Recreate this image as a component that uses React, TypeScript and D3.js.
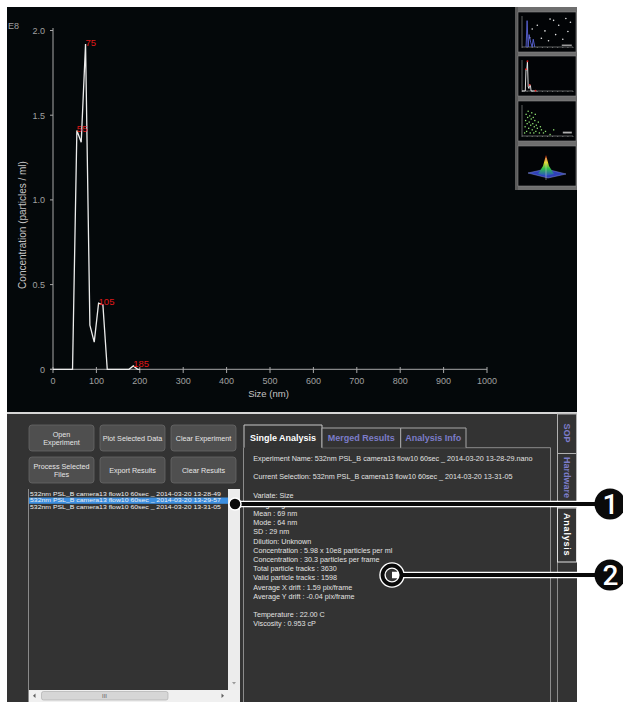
import React from "react";
import * as d3 from "d3";

// ---------- data ----------
const sizes = [0, 40, 45, 55, 65, 75, 85, 95, 105, 115, 125, 175, 185, 195, 200];
const concentration = [0, 0, 0, 1.41, 1.34, 1.92, 0.26, 0.16, 0.39, 0.38, 0, 0, 0.02, 0, 0];
const peakSizes = [55, 75, 105, 185];
const xTicks = [0, 100, 200, 300, 400, 500, 600, 700, 800, 900, 1000];
const yTicks = [0, 0.5, 1.0, 1.5, 2.0];
const yTickLabels = ["0", "0.5", "1.0", "1.5", "2.0"];

const buttonLabels = [
  ["Open", "Experiment"],
  ["Plot Selected Data"],
  ["Clear Experiment"],
  ["Process Selected", "Files"],
  ["Export Results"],
  ["Clear Results"],
];
const fileList = [
  "532nm PSL_B camera13 flow10 60sec _ 2014-03-20 13-28-49",
  "532nm PSL_B camera13 flow10 60sec _ 2014-03-20 13-29-57",
  "532nm PSL_B camera13 flow10 60sec _ 2014-03-20 13-31-05",
];
const selectedFile = 1;
const tabLabels = ["Single Analysis", "Merged Results", "Analysis Info"];
const sideTabs = ["SOP", "Hardware", "Analysis"];
const infoLines = [
  "Experiment Name: 532nm PSL_B camera13 flow10 60sec _ 2014-03-20 13-28-29.nano",
  "",
  "Current Selection: 532nm PSL_B camera13 flow10 60sec _ 2014-03-20 13-31-05",
  "",
  "Variate: Size",
  "Weighting: Number",
  "Mean : 69 nm",
  "Mode : 64 nm",
  "SD : 29 nm",
  "Dilution: Unknown",
  "Concentration : 5.98  x 10e8 particles per ml",
  "Concentration : 30.3 particles per frame",
  "Total particle tracks : 3630",
  "Valid particle tracks : 1598",
  "Average X drift : 1.59 pix/frame",
  "Average Y drift : -0.04 pix/frame",
  "",
  "Temperature : 22.00 C",
  "Viscosity : 0.953 cP",
];
const callouts = ["1", "2"];

// thumbnails (normalised 0..1 coordinates inside each mini plot)
const thumb1Dots = [
  [0.55, 0.1], [0.62, 0.14], [0.86, 0.08], [0.3, 0.3], [0.72, 0.3], [0.45, 0.48],
  [0.2, 0.42], [0.9, 0.5], [0.38, 0.72], [0.66, 0.6], [0.52, 0.8], [0.8, 0.75],
  [0.15, 0.7], [0.95, 0.2],
];
const thumb1Line = [
  [0.08, 1], [0.1, 0.15], [0.12, 1], [0.14, 0.6], [0.17, 0.85], [0.2, 1], [0.22, 0.75], [0.25, 1],
];
const thumb3Dots = [
  [0.05, 0.9], [0.06, 0.7], [0.07, 0.5], [0.08, 0.3], [0.09, 0.85], [0.1, 0.6], [0.11, 0.4],
  [0.12, 0.2], [0.13, 0.75], [0.14, 0.55], [0.15, 0.35], [0.16, 0.9], [0.17, 0.65], [0.18, 0.45],
  [0.19, 0.25], [0.2, 0.8], [0.21, 0.6], [0.22, 0.4], [0.23, 0.9], [0.24, 0.7], [0.25, 0.5],
  [0.26, 0.3], [0.27, 0.85], [0.28, 0.65], [0.3, 0.75], [0.32, 0.55], [0.34, 0.9], [0.36, 0.7],
  [0.38, 0.8], [0.42, 0.9], [0.46, 0.85], [0.55, 0.95], [0.62, 0.8],
];

// ---------- helpers ----------
const FONT = "'Liberation Sans', Arial, sans-serif";

export default function App() {
  const x = d3.scaleLinear().domain([0, 1000]).range([53, 487]);
  const y = d3.scaleLinear().domain([0, 2]).range([369.3, 30.5]);
  const pts = sizes.map((s, i) => [s, concentration[i]] as [number, number]);
  const line = d3
    .line<[number, number]>()
    .x((d) => x(d[0]))
    .y((d) => y(d[1]));

  const thumbs = [12, 56, 101, 146];
  const tx0 = 518, tw = 58, th = 40;

  const infoY = (i: number) => 460.7 + i * 9.2;
  const rowY = (i: number) => 496 + i * 6.4;

  return (
    <svg
      width={623}
      height={702}
      style={{ position: "fixed", left: 0, top: 0, display: "block" }}
      fontFamily={FONT}
    >
      <defs>
        <clipPath id="listClip">
          <rect x={29} y={489} width={199} height={201} />
        </clipPath>
        <clipPath id="hwClip">
          <rect x={557} y={454} width={20} height={53} />
        </clipPath>
        <linearGradient id="peakGrad" x1="0" y1="1" x2="0" y2="0">
          <stop offset="0" stopColor="#2a4cc8" />
          <stop offset="0.35" stopColor="#2fbf4a" />
          <stop offset="0.65" stopColor="#e8d820" />
          <stop offset="1" stopColor="#e0201a" />
        </linearGradient>
      </defs>
      <rect x={0} y={0} width={623} height={702} fill="#ffffff" />

      {/* ---------- top chart panel ---------- */}
      <rect x={7} y={7} width={570} height={405} fill="#04080a" />

      {/* axes */}
      <line x1={53} x2={53} y1={28} y2={369.3} stroke="#a8a8a8" />
      <line x1={50} x2={487} y1={369.3} y2={369.3} stroke="#a8a8a8" />
      {yTicks.map((t, i) => (
        <g key={"yt" + i}>
          <line x1={50} x2={53} y1={y(t)} y2={y(t)} stroke="#a8a8a8" />
          <text x={45} y={y(t) + 3.5} fontSize={9} fill="#a0a0a0" textAnchor="end">
            {yTickLabels[i]}
          </text>
        </g>
      ))}
      {xTicks.map((t) => (
        <g key={"xt" + t}>
          <line x1={x(t)} x2={x(t)} y1={367} y2={373} stroke="#a8a8a8" />
          <text x={x(t)} y={384} fontSize={9} fill="#a0a0a0" textAnchor="middle">
            {t}
          </text>
        </g>
      ))}
      <text x={8} y={28.5} fontSize={9} fill="#a0a0a0">E8</text>
      <text
        transform={`translate(25.5,225) rotate(-90)`}
        fontSize={10}
        fill="#c4c4c4"
        textAnchor="middle"
      >
        Concentration (particles / ml)
      </text>
      <text x={268.5} y={396.5} fontSize={9.5} fill="#c4c4c4" textAnchor="middle">
        Size (nm)
      </text>

      {/* data */}
      <path d={line(pts) || ""} fill="none" stroke="#ececec" strokeWidth={1.3} />
      {peakSizes.map((p) => {
        const v = concentration[sizes.indexOf(p)];
        return (
          <text key={"pk" + p} x={x(p)} y={y(v) + 1.5} fontSize={9.5} fill="#e01818">
            {p}
          </text>
        );
      })}

      {/* thumbnails */}
      <rect x={515} y={7} width={62} height={183} fill="#6e6e6e" />
      <rect x={515} y={7} width={3} height={183} fill="#5a5a5a" />
      {thumbs.map((ty, k) => {
        const ux = d3.scaleLinear().domain([0, 1]).range([tx0 + 4, tx0 + tw - 3]);
        const uy = d3.scaleLinear().domain([0, 1]).range([ty + 4, ty + th - 5]);
        return (
          <g key={"th" + k}>
            <rect x={tx0} y={ty} width={tw} height={th} fill="#020406" stroke="#8a8a8a" strokeWidth={0.6} />
            {k < 3 && (
              <g stroke="#bdbdbd" strokeWidth={0.5}>
                <line x1={ux(0)} x2={ux(0)} y1={uy(0)} y2={uy(1)} />
                <line x1={ux(0)} x2={ux(1)} y1={uy(1)} y2={uy(1)} />
                {d3.range(0, 1.01, 0.1).map((t) => (
                  <line key={t} x1={ux(t)} x2={ux(t)} y1={uy(1)} y2={uy(1) + 1} />
                ))}
              </g>
            )}
            {k === 0 && (
              <g>
                {thumb1Dots.map((d, i) => (
                  <circle key={i} cx={ux(d[0])} cy={uy(d[1])} r={0.8} fill="#e8e8e8" />
                ))}
                <path
                  d={d3.line().x((d) => ux(d[0])).y((d) => uy(d[1]))(thumb1Line as [number, number][]) || ""}
                  fill="none"
                  stroke="#5a64d8"
                  strokeWidth={0.9}
                />
                <rect x={ux(0.78)} y={uy(0.92)} width={10} height={1.5} fill="#9a9a9a" />
              </g>
            )}
            {k === 1 && (
              <g>
                <path
                  d={
                    d3
                      .line<[number, number]>()
                      .x((d) => ux(d[0] / 700))
                      .y((d) => uy(1 - d[1] / 2))(pts) || ""
                  }
                  fill="none"
                  stroke="#f4f4f4"
                  strokeWidth={0.9}
                />
                {peakSizes.map((p) => (
                  <circle
                    key={p}
                    cx={ux(p / 700)}
                    cy={uy(1 - concentration[sizes.indexOf(p)] / 2)}
                    r={0.9}
                    fill="#e02020"
                  />
                ))}
              </g>
            )}
            {k === 2 && (
              <g>
                {thumb3Dots.map((d, i) => (
                  <rect key={i} x={ux(d[0]) - 0.6} y={uy(d[1]) - 0.6} width={1.3} height={1.3} fill="#8ee070" />
                ))}
                <rect x={ux(0.8)} y={uy(0.86)} width={9} height={1.8} fill="#b0b0b0" />
              </g>
            )}
            {k === 3 && (
              <g>
                <polygon
                  points={`${tx0 + 10},${ty + 27} ${tx0 + 28},${ty + 23} ${tx0 + 48},${ty + 28} ${tx0 + 30},${ty + 32}`}
                  fill="#3040b8"
                  stroke="#8090e0"
                  strokeWidth={0.5}
                />
                <polygon
                  points={`${tx0 + 20},${ty + 28} ${tx0 + 25},${ty + 20} ${tx0 + 28},${ty + 9} ${tx0 + 31},${ty + 20} ${tx0 + 36},${ty + 28} ${tx0 + 28},${ty + 30}`}
                  fill="url(#peakGrad)"
                />
                <line x1={tx0 + 28} x2={tx0 + 28} y1={ty + 12} y2={ty + 34} stroke="#d0d0d0" strokeWidth={0.5} />
              </g>
            )}
          </g>
        );
      })}

      {/* ---------- bottom panel ---------- */}
      <rect x={7} y={414} width={570} height={288} fill="#333333" />
      <line x1={7} x2={577} y1={413} y2={413} stroke="#d6d6d6" strokeWidth={2} />

      {/* buttons */}
      {buttonLabels.map((lbl, i) => {
        const col = i % 3;
        const row = Math.floor(i / 3);
        const bx = 29 + col * 71;
        const by = 425 + row * 32;
        const bw = 65, bh = 26;
        return (
          <g key={"b" + i}>
            <rect x={bx} y={by} width={bw} height={bh} rx={3} fill="#4f4f4f" stroke="#676767" strokeWidth={0.8} />
            {lbl.map((s, j) => (
              <text
                key={j}
                x={bx + bw / 2}
                y={by + bh / 2 + 2.5 + (j - (lbl.length - 1) / 2) * 8}
                fontSize={7.2}
                fill="#e6e6e6"
                textAnchor="middle"
              >
                {s}
              </text>
            ))}
          </g>
        );
      })}

      {/* file list */}
      <line x1={28.5} x2={28.5} y1={489} y2={702} stroke="#8a8a8a" />
      <g clipPath="url(#listClip)">
        {fileList.map((f, i) => (
          <g key={"f" + i}>
            {i === selectedFile && <rect x={29} y={rowY(i) - 4.9} width={199} height={6.3} fill="#3d8fe0" />}
            <text
              transform={`translate(30,${rowY(i)}) scale(1.25,1)`}
              fontSize={5.5}
              fill="#f0f0f0"
            >
              {f}
            </text>
          </g>
        ))}
      </g>
      <rect x={228} y={489} width={12} height={201} fill="#ececec" />
      <path d="M232,682 L236,682 L234,684.5 Z" fill="#9a9a9a" />
      <rect x={29} y={690} width={211} height={12} fill="#f0f0f0" />
      <rect x={41.5} y={691.5} width={126.5} height={8.5} rx={2} fill="#d6d6d6" stroke="#a8a8a8" strokeWidth={0.6} />
      <text x={104.5} y={698.3} fontSize={6} fill="#606060" textAnchor="middle">III</text>
      <path d="M35.5,693.5 L35.5,698 L33,695.75 Z" fill="#606060" />
      <path d="M221.5,693.5 L221.5,698 L224,695.75 Z" fill="#606060" />

      {/* tabs + content box */}
      <path d="M322,447.7 L550.5,447.7 L550.5,702" fill="none" stroke="#8c8c8c" />
      <line x1={243.5} x2={243.5} y1={447.7} y2={702} stroke="#8c8c8c" />
      {tabLabels.map((t, i) => {
        const xs = [244, 322, 400.7, 466];
        const top = i === 0 ? 425 : 428;
        return (
          <g key={"tab" + i}>
            <path
              d={`M${xs[i]},447.7 L${xs[i]},${top} L${xs[i + 1]},${top} L${xs[i + 1]},447.7`}
              fill="#333333"
              stroke={i === 0 ? "#c8c8c8" : "#a8a8a8"}
              strokeWidth={1}
            />
            <text
              x={(xs[i] + xs[i + 1]) / 2}
              y={441}
              fontSize={9}
              fontWeight="bold"
              fill={i === 0 ? "#ffffff" : "#7c7cc8"}
              textAnchor="middle"
            >
              {t}
            </text>
          </g>
        );
      })}
      {infoLines.map((s, i) =>
        s ? (
          <text key={"il" + i} x={253.3} y={infoY(i)} fontSize={7.2} fill="#e2e2e2">
            {s}
          </text>
        ) : null
      )}

      {/* side tabs */}
      <line x1={557.5} x2={557.5} y1={414} y2={702} stroke="#8c8c8c" />
      {sideTabs.map((t, i) => {
        const ys = [414, 453.5, 508, 562];
        const active = i === 2;
        return (
          <g key={"st" + i}>
            <rect
              x={557.5}
              y={ys[i]}
              width={19}
              height={ys[i + 1] - ys[i]}
              fill="#333333"
              stroke={active ? "#e0e0e0" : "#b0b0b0"}
              strokeWidth={1}
            />
            <g clipPath={i === 1 ? "url(#hwClip)" : undefined}>
              <text
                transform={`translate(564,${i === 0 ? 433 : i === 1 ? 457 : 513}) rotate(90)`}
                fontSize={9}
                fontWeight="bold"
                fill={active ? "#ffffff" : "#7c7cc8"}
                textAnchor={i === 0 ? "middle" : "start"}
                letterSpacing={i === 2 ? 0.8 : 0}
              >
                {t}
              </text>
            </g>
          </g>
        );
      })}

      {/* ---------- callouts ---------- */}
      {callouts.map((c, i) => {
        const cy = i === 0 ? 504 : 575;
        const x0 = i === 0 ? 235 : 392;
        const bigX = 610;
        return (
          <g key={"co" + i}>
            <line x1={x0} x2={bigX} y1={cy} y2={cy} stroke="#ffffff" strokeWidth={6.5} />
            {i === 1 && <circle cx={x0} cy={cy} r={9.5} fill="none" stroke="#ffffff" strokeWidth={6.5} />}
            <line x1={i === 0 ? x0 : x0 + 9.5} x2={bigX} y1={cy} y2={cy} stroke="#0a0a0a" strokeWidth={3.8} />
            {i === 0 ? (
              <circle cx={x0} cy={cy} r={6} fill="#0a0a0a" stroke="#ffffff" strokeWidth={1.5} />
            ) : (
              <circle cx={x0} cy={cy} r={9.5} fill="none" stroke="#0a0a0a" strokeWidth={3.8} />
            )}
            <circle cx={bigX} cy={cy} r={15.5} fill="#0a0a0a" />
            <text
              x={bigX + 0.5}
              y={cy + 10}
              fontSize={28}
              fontFamily="Roboto, 'Liberation Sans', sans-serif"
              fontWeight="500"
              fill="#ffffff"
              textAnchor="middle"
            >
              {c}
            </text>
          </g>
        );
      })}
    </svg>
  );
}
